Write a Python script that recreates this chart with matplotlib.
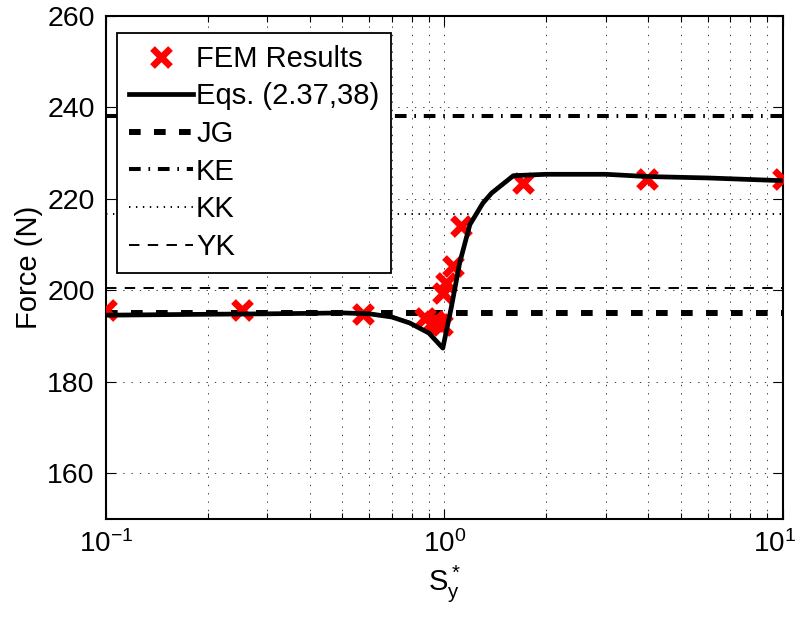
import numpy as np
import matplotlib
matplotlib.use("Agg")
import matplotlib.pyplot as plt
import matplotlib.transforms as mtransforms
from matplotlib.ticker import LogLocator, FixedLocator

plt.rcParams["font.family"] = ["Liberation Sans", "DejaVu Sans"]
plt.rcParams["mathtext.fontset"] = "custom"
plt.rcParams["mathtext.rm"] = "Liberation Sans"
plt.rcParams["mathtext.it"] = "Liberation Sans"
plt.rcParams["mathtext.default"] = "regular"
plt.rcParams["lines.scale_dashes"] = False

# FEM results
fem_x = [0.1, 0.252, 0.575, 0.875, 0.935, 0.965, 0.985, 0.993, 1.015, 1.06, 1.117, 1.71, 3.96, 10.0]
fem_y = [195.6, 195.7, 194.8, 193.9, 193.2, 192.6, 192.3, 199.3, 201.5, 205.3, 213.9, 223.5, 224.3, 224.2]

# Eqs. (2.37, 38)
eq_x = [0.1, 0.2, 0.3, 0.4, 0.5, 0.6, 0.7, 0.79, 0.9, 0.99, 1.05, 1.11, 1.19, 1.3, 1.38, 1.6, 2.0, 3.0, 4.0, 6.0, 10.0]
eq_y = [194.5, 194.7, 194.8, 194.9, 195.0, 194.8, 194.1, 192.8, 190.6, 187.3, 196.4, 205.9, 214.3, 219.0, 221.2, 225.0, 225.3, 225.3, 224.8, 224.5, 223.9]

# constant-force models
jg_force = 195.0
ke_force = 238.15
kk_force = 216.6
yk_force = 200.4

fig = plt.figure(figsize=(8.02, 6.22), dpi=100)
ax = fig.add_axes([0.132, 0.166, 0.844, 0.809])

ax.plot(fem_x, fem_y, linestyle="none", marker="x", color="red",
        markersize=13.5, markeredgewidth=4.8, label="FEM Results", zorder=3)
ax.plot(eq_x, eq_y, color="black", linewidth=3.4, label="Eqs. (2.37,38)", zorder=4)
ax.axhline(jg_force, color="black", linewidth=4.3, linestyle=(0, (8.4, 9.6)), label="JG")
ax.axhline(ke_force, color="black", linewidth=2.9, linestyle=(0, (8.4, 5.6, 1.2, 5.6)), label="KE")
ax.axhline(kk_force, color="black", linewidth=1.4, linestyle=(0, (1.0, 4.0)), label="KK")
ax.axhline(yk_force, color="black", linewidth=1.4, linestyle=(0, (7.5, 6.0)), label="YK")

ax.set_xscale("log")
ax.set_xlim(0.1, 10)
ax.set_ylim(150, 260)
ax.yaxis.set_major_locator(FixedLocator([160, 180, 200, 220, 240, 260]))
ax.xaxis.set_minor_locator(LogLocator(base=10, subs=np.arange(2, 10)))

ax.grid(True, which="both", axis="x", color="0.25", linewidth=0.7, linestyle=(0, (1, 5)))
ax.grid(True, which="major", axis="y", color="0.25", linewidth=0.7, linestyle=(0, (1, 5)))

ax.tick_params(which="both", direction="in", top=True, right=True, labelsize=20.5, width=0.8)
ax.tick_params(axis="x", labelsize=20)
ax.tick_params(which="major", length=7, pad=8)
ax.tick_params(which="minor", length=4)
for s in ax.spines.values():
    s.set_linewidth(1.5)

ax.set_xlabel("$S_y^*$", fontsize=21, labelpad=4)
ax.set_ylabel("Force (N)", fontsize=21, labelpad=3)

leg = ax.legend(loc="upper left", bbox_to_anchor=(0.017, 0.965), fontsize=21,
                frameon=True, fancybox=False, framealpha=1, edgecolor="black",
                handlelength=2.2, handletextpad=0.1, labelspacing=0.33,
                borderaxespad=0, borderpad=0.4)
leg.get_frame().set_linewidth(1.3)

# nudge the 10^1 label so it stays inside the figure
fig.canvas.draw()
last = ax.xaxis.get_major_ticks()
for t in last:
    if abs(t.get_loc() - 10) < 1e-9:
        shift = mtransforms.ScaledTranslation(-6 / 72, 0, fig.dpi_scale_trans)
        t.label1.set_transform(t.label1.get_transform() + shift)

fig.savefig("out.png", dpi=100)
